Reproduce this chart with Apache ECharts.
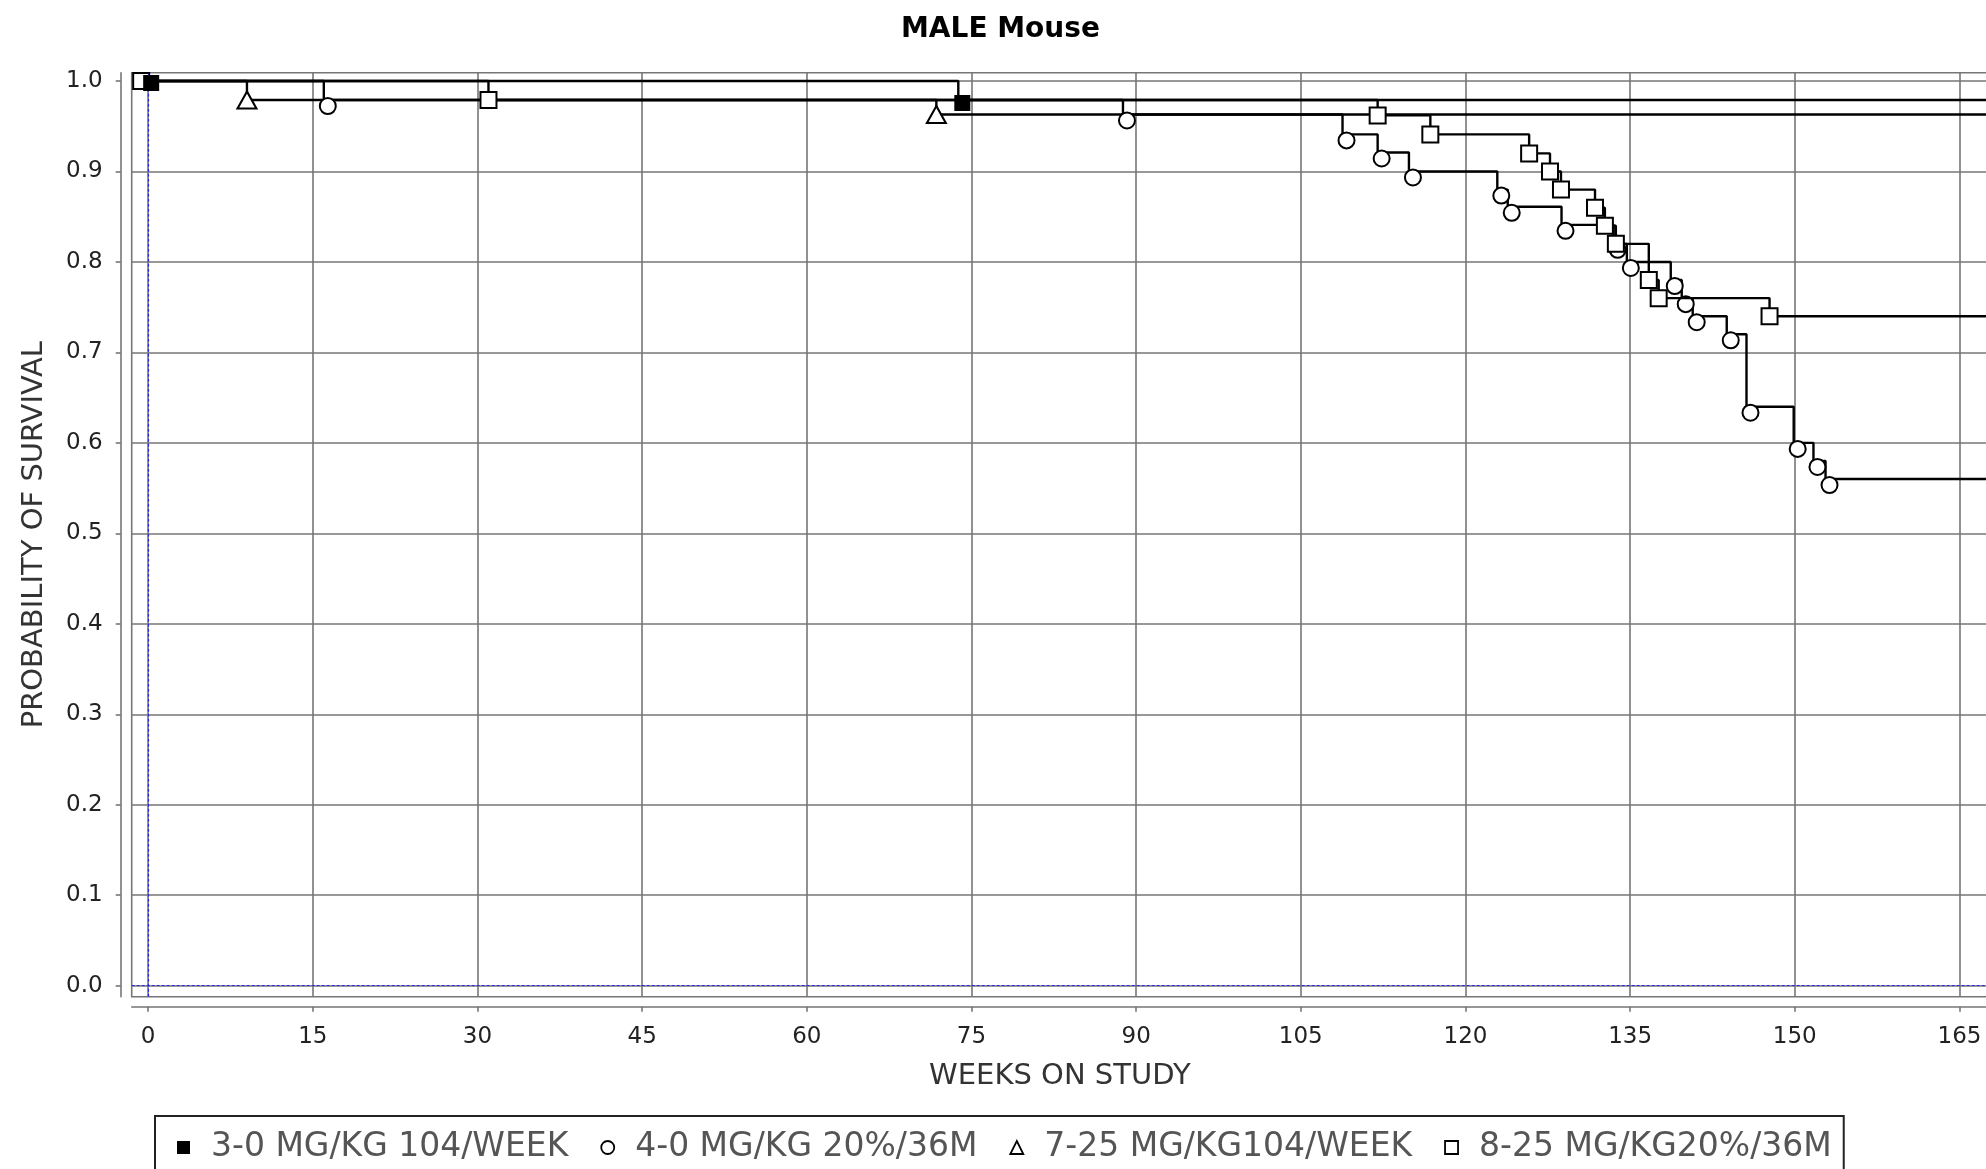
<!DOCTYPE html>
<html><head><meta charset="utf-8">
<script src="https://cdn.jsdelivr.net/npm/echarts@6/dist/echarts.min.js"></script>
<style>html,body{margin:0;padding:0;background:#fff}#c{width:1986px;height:1169px}</style>
</head><body><div id="c"></div>
<script>
const chartTitle = 'MALE Mouse';
const xName = 'WEEKS ON STUDY';
const yName = 'PROBABILITY OF SURVIVAL';
const xTicks = [0, 15, 30, 45, 60, 75, 90, 105, 120, 135, 150, 165];
const yTicks = [0, 0.1, 0.2, 0.3, 0.4, 0.5, 0.6, 0.7, 0.8, 0.9, 1.0];
const groupNames = ['3-0 MG/KG 104/WEEK', '4-0 MG/KG 20%/36M', '7-25 MG/KG104/WEEK', '8-25 MG/KG20%/36M'];

const weeks30 = [0, 73.8, 168];
const surv30 = [1.0, 0.979, 0.979];

const weeks40 = [0, 16.0, 88.8, 108.8, 112.0, 114.85, 122.9, 123.85, 128.75, 133.5, 134.7, 138.7, 139.7, 140.7, 143.8, 145.6, 149.9, 151.7, 152.8, 168];
const surv40 = [1.0, 0.979, 0.963, 0.941, 0.921, 0.900, 0.880, 0.861, 0.841, 0.820, 0.800, 0.780, 0.760, 0.740, 0.720, 0.640, 0.600, 0.580, 0.560, 0.560];

const weeks725 = [0, 9.0, 71.8, 168];
const surv725 = [1.0, 0.979, 0.963, 0.963];

const weeks825 = [0, 31.0, 112.0, 116.8, 125.8, 127.7, 128.7, 131.8, 132.7, 133.7, 136.7, 137.6, 147.7, 168];
const surv825 = [1.0, 0.979, 0.962, 0.941, 0.920, 0.900, 0.880, 0.860, 0.840, 0.820, 0.780, 0.760, 0.740, 0.740];

function build(weeks, surv, showStart, offset, startOffset) {
  return weeks.map(function (w, i) {
    const item = { value: [w, surv[i]] };
    const last = i === weeks.length - 1;
    if (last || (i === 0 && !showStart)) {
      item.symbol = 'none';
    } else {
      item.symbolOffset = (i === 0 && startOffset) ? startOffset : offset;
    }
    return item;
  });
}

const FONT = 'DejaVu Sans';
const GRID_COLOR = '#767676';
const chart = echarts.init(document.getElementById('c'), null, { renderer: 'canvas' });

const common = {
  type: 'line', step: 'end', animation: false, showAllSymbol: true, clip: true,
  lineStyle: { color: '#000', width: 2.4 },
  emphasis: { disabled: true }
};

chart.setOption({
  backgroundColor: '#fff',
  animation: false,
  title: {
    text: chartTitle, left: 901, top: 16, padding: 0,
    textStyle: { fontSize: 28, fontWeight: 'bold', color: '#000', fontFamily: FONT }
  },
  grid: {
    left: 131.7, top: 72.7, right: -2, bottom: 172.3,
    show: true, borderColor: GRID_COLOR, borderWidth: 1.6, backgroundColor: '#fff',
    containLabel: false, outerBoundsMode: 'none'
  },
  legend: {
    left: 155, top: 1116, orient: 'horizontal',
    padding: [15, 12, 40, 22], itemGap: 32, itemWidth: 13, itemHeight: 13,
    borderColor: '#222', borderWidth: 2, selectedMode: false,
    textStyle: { fontSize: 33, color: '#555', fontFamily: FONT, padding: [0, 0, 0, 16] },
    data: [
      { name: groupNames[0], icon: 'rect', itemStyle: { color: '#000', borderWidth: 0 } },
      { name: groupNames[1], icon: 'circle', itemStyle: { color: '#fff', borderColor: '#000', borderWidth: 1.8 } },
      { name: groupNames[2], icon: 'triangle', itemStyle: { color: '#fff', borderColor: '#000', borderWidth: 1.8 } },
      { name: groupNames[3], icon: 'rect', itemStyle: { color: '#fff', borderColor: '#000', borderWidth: 1.8 } }
    ]
  },
  xAxis: {
    type: 'value', min: -1.5, max: 167.6, offset: 10,
    axisLine: { show: true, onZero: false, lineStyle: { color: GRID_COLOR, width: 1.6 } },
    axisTick: { show: true, length: 5, customValues: xTicks, lineStyle: { color: GRID_COLOR, width: 1.6 } },
    axisLabel: { customValues: xTicks, margin: 19, fontSize: 23, color: '#222', fontFamily: FONT },
    splitLine: { show: true, lineStyle: { color: GRID_COLOR, width: 1.6 } },
    name: xName, nameLocation: 'middle', nameGap: 55,
    nameTextStyle: { fontSize: 29, color: '#333', fontFamily: FONT }
  },
  yAxis: {
    type: 'value', min: -0.0122, max: 1.0092, offset: 11,
    axisLine: { show: true, onZero: false, lineStyle: { color: GRID_COLOR, width: 1.6 } },
    axisTick: { show: true, length: 5, customValues: yTicks, lineStyle: { color: GRID_COLOR, width: 1.6 } },
    axisLabel: { customValues: yTicks, formatter: function (v) { return Number(v).toFixed(1); }, margin: 18, fontSize: 23, color: '#222', fontFamily: FONT },
    splitLine: { show: true, lineStyle: { color: GRID_COLOR, width: 1.6 } },
    name: yName, nameLocation: 'middle', nameGap: 72, nameRotate: 90,
    nameTextStyle: { fontSize: 29, color: '#333', fontFamily: FONT }
  },
  series: [
    Object.assign({}, common, {
      name: groupNames[0], symbol: 'rect', symbolSize: 16, z: 5,
      itemStyle: { color: '#000' },
      data: build(weeks30, surv30, true, [4, 3], [3, 2]),
      markLine: {
        silent: true, symbol: ['none', 'none'], animation: false,
        label: { show: false },
        lineStyle: { color: '#2b2bdd', type: [3, 2], width: 1.2 },
        emphasis: { disabled: true },
        data: [{ xAxis: 0 }, { yAxis: 0 }]
      }
    }),
    Object.assign({}, common, {
      name: groupNames[1], symbol: 'emptyCircle', symbolSize: 16, z: 3,
      itemStyle: { color: '#000', borderWidth: 2.4 },
      data: build(weeks40, surv40, false, [4, 6])
    }),
    Object.assign({}, common, {
      name: groupNames[2], symbol: 'emptyTriangle', symbolSize: [19, 17], z: 3,
      itemStyle: { color: '#000', borderWidth: 2.4 },
      data: build(weeks725, surv725, false, [0, 0])
    }),
    Object.assign({}, common, {
      name: groupNames[3], symbol: 'emptyRect', symbolSize: 16, z: 4,
      itemStyle: { color: '#000', borderWidth: 2.4 },
      data: build(weeks825, surv825, true, [0, 0], [-7, 0])
    })
  ]
});
</script></body></html>
